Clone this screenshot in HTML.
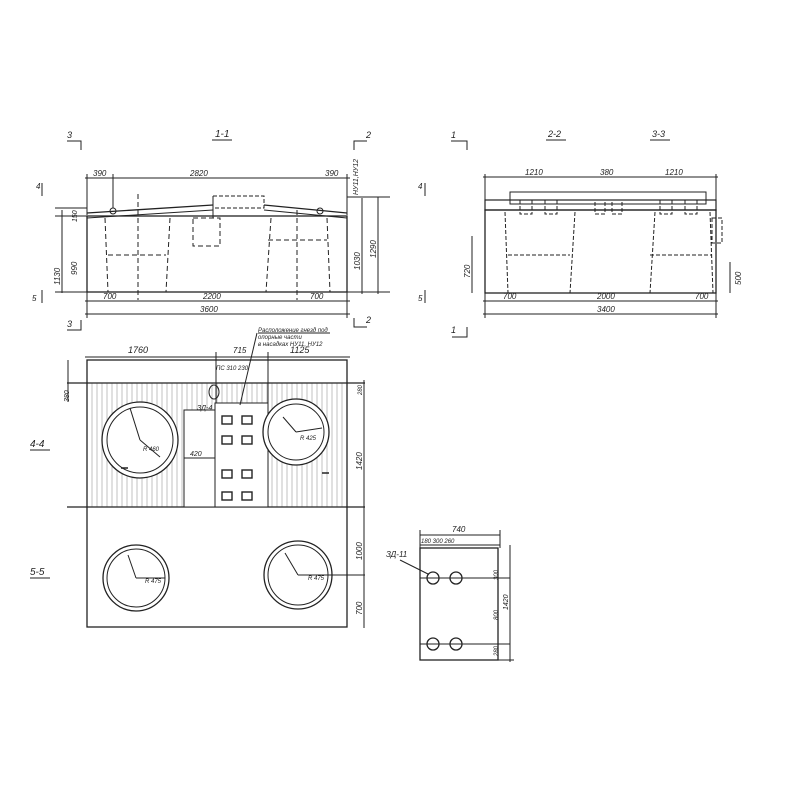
<!DOCTYPE html>
<html><head><meta charset="utf-8"><style>body{margin:0;background:#fff}svg{display:block}text{font-family:"Liberation Sans",sans-serif;font-style:italic;fill:#222}</style></head><body>
<svg width="800" height="800" viewBox="0 0 800 800" xmlns="http://www.w3.org/2000/svg" stroke="#222" fill="none" stroke-width="1">
<defs><pattern id="h" width="5" height="10" patternUnits="userSpaceOnUse"><line x1="2" y1="0" x2="2" y2="10" stroke="#999" stroke-width="0.6"/></pattern></defs>
<!-- Section 1-1 -->
<g>
<text x="215" y="137" font-size="10" stroke="none">1-1</text>
<line x1="212" y1="140" x2="232" y2="140"/>
<polyline points="67,141 81,141 81,150"/><text x="67" y="138" font-size="9" stroke="none">3</text>
<polyline points="367,141 354,141 354,150"/><text x="366" y="138" font-size="9" stroke="none">2</text>
<rect x="87" y="216" width="260" height="76" stroke-width="1.3"/>
<line x1="87" y1="213" x2="213" y2="205" stroke-width="1.3"/><line x1="87" y1="218" x2="213" y2="210"/>
<line x1="347" y1="213" x2="264" y2="205" stroke-width="1.3"/><line x1="347" y1="218" x2="264" y2="210"/>
<rect x="213" y="196" width="51" height="12" stroke-dasharray="4,2"/>
<line x1="213" y1="196" x2="213" y2="218"/>
<circle cx="113" cy="211" r="3"/><circle cx="320" cy="211" r="3"/>
<g stroke-dasharray="5,3">
<line x1="105" y1="218" x2="108" y2="292"/><line x1="170" y1="218" x2="166" y2="292"/>
<line x1="108" y1="255" x2="166" y2="255"/>
<line x1="271" y1="218" x2="266" y2="292"/><line x1="327" y1="218" x2="330" y2="292"/>
<line x1="268" y1="240" x2="327" y2="240"/>
<rect x="193" y="218" width="27" height="28"/>
<line x1="138" y1="194" x2="138" y2="300"/><line x1="297" y1="210" x2="297" y2="300"/>
</g>
<line x1="85" y1="178" x2="350" y2="178"/><line x1="87" y1="174" x2="87" y2="215"/><line x1="113" y1="174" x2="113" y2="208"/><line x1="347" y1="174" x2="347" y2="215"/>
<text x="93" y="176" font-size="8" stroke="none">390</text><text x="190" y="176" font-size="8" stroke="none">2820</text><text x="325" y="176" font-size="8" stroke="none">390</text>
<line x1="85" y1="301" x2="350" y2="301"/><line x1="87" y1="292" x2="87" y2="318"/><line x1="347" y1="292" x2="347" y2="318"/>
<text x="103" y="299" font-size="8" stroke="none">700</text><text x="203" y="299" font-size="8" stroke="none">2200</text><text x="310" y="299" font-size="8" stroke="none">700</text>
<line x1="85" y1="314" x2="350" y2="314"/><text x="200" y="312" font-size="8" stroke="none">3600</text>
<line x1="62" y1="210" x2="62" y2="293"/><line x1="55" y1="292" x2="87" y2="292"/><line x1="55" y1="216" x2="87" y2="216"/><line x1="55" y1="208" x2="87" y2="208"/>
<text transform="translate(60,285) rotate(-90)" font-size="8" stroke="none">1130</text>
<text transform="translate(77,275) rotate(-90)" font-size="8" stroke="none">990</text>
<text transform="translate(77,222) rotate(-90)" font-size="7" stroke="none">150</text>
<line x1="362" y1="198" x2="362" y2="294"/><line x1="378" y1="197" x2="378" y2="294"/><line x1="347" y1="292" x2="390" y2="292"/><line x1="347" y1="197" x2="390" y2="197"/>
<text transform="translate(360,270) rotate(-90)" font-size="8" stroke="none">1030</text>
<text transform="translate(376,258) rotate(-90)" font-size="8" stroke="none">1290</text>
<text transform="translate(358,195) rotate(-90)" font-size="7" stroke="none">НУ11,НУ12</text>
<text x="36" y="189" font-size="8" stroke="none">4</text><line x1="42" y1="183" x2="42" y2="196"/>
<text x="32" y="301" font-size="8" stroke="none">5</text><line x1="42" y1="290" x2="42" y2="303"/>
<text x="67" y="327" font-size="9" stroke="none">3</text><polyline points="67,330 81,330 81,320"/>
<text x="366" y="323" font-size="9" stroke="none">2</text><polyline points="367,327 354,327 354,318"/>
</g>
<!-- Section 2-2 -->
<g>
<text x="548" y="137" font-size="9" stroke="none">2-2</text><line x1="546" y1="140" x2="566" y2="140"/>
<text x="652" y="137" font-size="9" stroke="none">3-3</text><line x1="650" y1="140" x2="670" y2="140"/>
<polyline points="451,141 467,141 467,150"/><text x="451" y="138" font-size="9" stroke="none">1</text>
<rect x="485" y="210" width="231" height="83" stroke-width="1.3"/>
<rect x="485" y="200" width="231" height="10" stroke-width="1.2"/>
<rect x="510" y="192" width="196" height="12"/>
<g stroke-dasharray="4,2">
<rect x="520" y="200" width="12" height="14"/><rect x="545" y="200" width="12" height="14"/><rect x="595" y="200" width="10" height="14"/><rect x="612" y="200" width="10" height="14"/><rect x="660" y="200" width="12" height="14"/><rect x="685" y="200" width="12" height="14"/>
<line x1="505" y1="212" x2="508" y2="293"/><line x1="575" y1="212" x2="570" y2="293"/><line x1="508" y1="255" x2="570" y2="255"/>
<line x1="655" y1="212" x2="650" y2="293"/><line x1="710" y1="212" x2="713" y2="293"/><line x1="650" y1="255" x2="712" y2="255"/>
<rect x="712" y="218" width="10" height="25"/>
</g>
<line x1="483" y1="177" x2="718" y2="177"/><line x1="485" y1="174" x2="485" y2="200"/><line x1="716" y1="174" x2="716" y2="200"/>
<text x="525" y="175" font-size="8" stroke="none">1210</text><text x="600" y="175" font-size="8" stroke="none">380</text><text x="665" y="175" font-size="8" stroke="none">1210</text>
<line x1="483" y1="301" x2="718" y2="301"/><line x1="485" y1="293" x2="485" y2="318"/><line x1="716" y1="293" x2="716" y2="318"/>
<text x="503" y="299" font-size="8" stroke="none">700</text><text x="597" y="299" font-size="8" stroke="none">2000</text><text x="695" y="299" font-size="8" stroke="none">700</text>
<line x1="483" y1="314" x2="718" y2="314"/><text x="597" y="312" font-size="8" stroke="none">3400</text>
<line x1="472" y1="236" x2="472" y2="293"/><text transform="translate(470,278) rotate(-90)" font-size="8" stroke="none">720</text>
<line x1="730" y1="262" x2="730" y2="293"/><text transform="translate(741,285) rotate(-90)" font-size="8" stroke="none">500</text>
<text x="418" y="189" font-size="8" stroke="none">4</text><line x1="425" y1="183" x2="425" y2="196"/>
<text x="418" y="301" font-size="8" stroke="none">5</text><line x1="425" y1="290" x2="425" y2="303"/>
<text x="451" y="333" font-size="9" stroke="none">1</text><polyline points="452,337 467,337 467,327"/>
</g>
<!-- Plan 4-4 / 5-5 -->
<g>
<rect x="87" y="383" width="260" height="124" fill="url(#h)" stroke="none"/>
<rect x="87" y="360" width="260" height="267" stroke-width="1.3"/>
<line x1="67" y1="383" x2="365" y2="383" stroke-width="1.2"/>
<line x1="67" y1="507" x2="365" y2="507" stroke-width="1.2"/>
<rect x="184" y="410" width="32" height="97" fill="#fff"/>
<rect x="215" y="403" width="53" height="104" fill="#fff"/>
<line x1="184" y1="458" x2="215" y2="458"/><text x="190" y="456" font-size="7" stroke="none">420</text>
<g stroke-width="1.4"><rect x="222" y="416" width="10" height="8"/><rect x="242" y="416" width="10" height="8"/><rect x="222" y="436" width="10" height="8"/><rect x="242" y="436" width="10" height="8"/><rect x="222" y="470" width="10" height="8"/><rect x="242" y="470" width="10" height="8"/><rect x="222" y="492" width="10" height="8"/><rect x="242" y="492" width="10" height="8"/></g>
<ellipse cx="214" cy="392" rx="5" ry="7"/>
<circle cx="140" cy="440" r="38" fill="#fff" stroke-width="1.3"/><circle cx="140" cy="440" r="33"/>
<circle cx="296" cy="432" r="33" fill="#fff" stroke-width="1.3"/><circle cx="296" cy="432" r="28"/>
<circle cx="136" cy="578" r="33" stroke-width="1.3"/><circle cx="136" cy="578" r="29"/>
<circle cx="298" cy="575" r="34" stroke-width="1.3"/><circle cx="298" cy="575" r="30"/>
<line x1="140" y1="440" x2="130" y2="408"/><line x1="140" y1="440" x2="160" y2="457"/>
<line x1="296" y1="432" x2="283" y2="417"/><line x1="296" y1="432" x2="322" y2="428"/>
<line x1="136" y1="578" x2="128" y2="555"/><line x1="136" y1="578" x2="165" y2="578"/>
<line x1="298" y1="575" x2="285" y2="553"/><line x1="298" y1="575" x2="365" y2="575"/>
<text x="143" y="451" font-size="6" stroke="none">R 460</text><text x="300" y="440" font-size="6" stroke="none">R 425</text>
<text x="145" y="583" font-size="6" stroke="none">R 475</text><text x="308" y="580" font-size="6" stroke="none">R 475</text>
<line x1="121" y1="468" x2="128" y2="468" stroke-width="1.5"/><line x1="322" y1="473" x2="329" y2="473" stroke-width="1.5"/>
<line x1="85" y1="357" x2="350" y2="357"/><line x1="216" y1="352" x2="216" y2="403"/><line x1="268" y1="352" x2="268" y2="403"/>
<text x="128" y="353" font-size="9" stroke="none">1760</text><text x="233" y="353" font-size="8" stroke="none">715</text><text x="290" y="353" font-size="9" stroke="none">1125</text>
<text x="258" y="332" font-size="6" stroke="none">Расположение гнезд под</text>
<text x="258" y="339" font-size="6" stroke="none">опорные части</text>
<text x="258" y="346" font-size="6" stroke="none">в насадках НУ11, НУ12</text>
<line x1="258" y1="333" x2="330" y2="333"/><line x1="257" y1="333" x2="240" y2="405"/>
<text x="216" y="370" font-size="6" stroke="none">ПС 310 230</text>
<text x="197" y="410" font-size="7" stroke="none">ЗД-4</text>
<line x1="364" y1="380" x2="364" y2="628"/>
<text transform="translate(362,470) rotate(-90)" font-size="8" stroke="none">1420</text>
<text transform="translate(362,560) rotate(-90)" font-size="8" stroke="none">1000</text>
<text transform="translate(362,615) rotate(-90)" font-size="8" stroke="none">700</text>
<text transform="translate(362,395) rotate(-90)" font-size="6" stroke="none">280</text>
<line x1="68" y1="360" x2="68" y2="402"/><text transform="translate(69,402) rotate(-90)" font-size="7" stroke="none">380</text>
<text x="30" y="447" font-size="10" stroke="none">4-4</text><line x1="30" y1="450" x2="50" y2="450"/>
<text x="30" y="575" font-size="10" stroke="none">5-5</text><line x1="30" y1="578" x2="50" y2="578"/>
</g>
<!-- Detail ZD-11 -->
<g>
<rect x="420" y="548" width="78" height="112" stroke-width="1.3"/>
<line x1="420" y1="535" x2="500" y2="535"/><line x1="420" y1="530" x2="420" y2="548"/><line x1="500" y1="530" x2="500" y2="548"/>
<line x1="420" y1="545" x2="500" y2="545"/>
<text x="452" y="532" font-size="8" stroke="none">740</text>
<text x="421" y="543" font-size="6" stroke="none">180 300 260</text>
<line x1="510" y1="545" x2="510" y2="662"/><line x1="498" y1="660" x2="514" y2="660"/>
<text transform="translate(508,610) rotate(-90)" font-size="7" stroke="none">1420</text>
<text transform="translate(498,580) rotate(-90)" font-size="6" stroke="none">300</text>
<text transform="translate(498,620) rotate(-90)" font-size="6" stroke="none">800</text>
<text transform="translate(498,656) rotate(-90)" font-size="6" stroke="none">280</text>
<line x1="420" y1="578" x2="510" y2="578"/><line x1="420" y1="644" x2="510" y2="644"/>
<circle cx="433" cy="578" r="6" stroke-width="1.3"/><circle cx="456" cy="578" r="6" stroke-width="1.3"/>
<circle cx="433" cy="644" r="6" stroke-width="1.3"/><circle cx="456" cy="644" r="6" stroke-width="1.3"/>
<text x="386" y="557" font-size="8" stroke="none">ЗД-11</text><line x1="400" y1="560" x2="428" y2="574"/>
</g>
</svg>
</body></html>
